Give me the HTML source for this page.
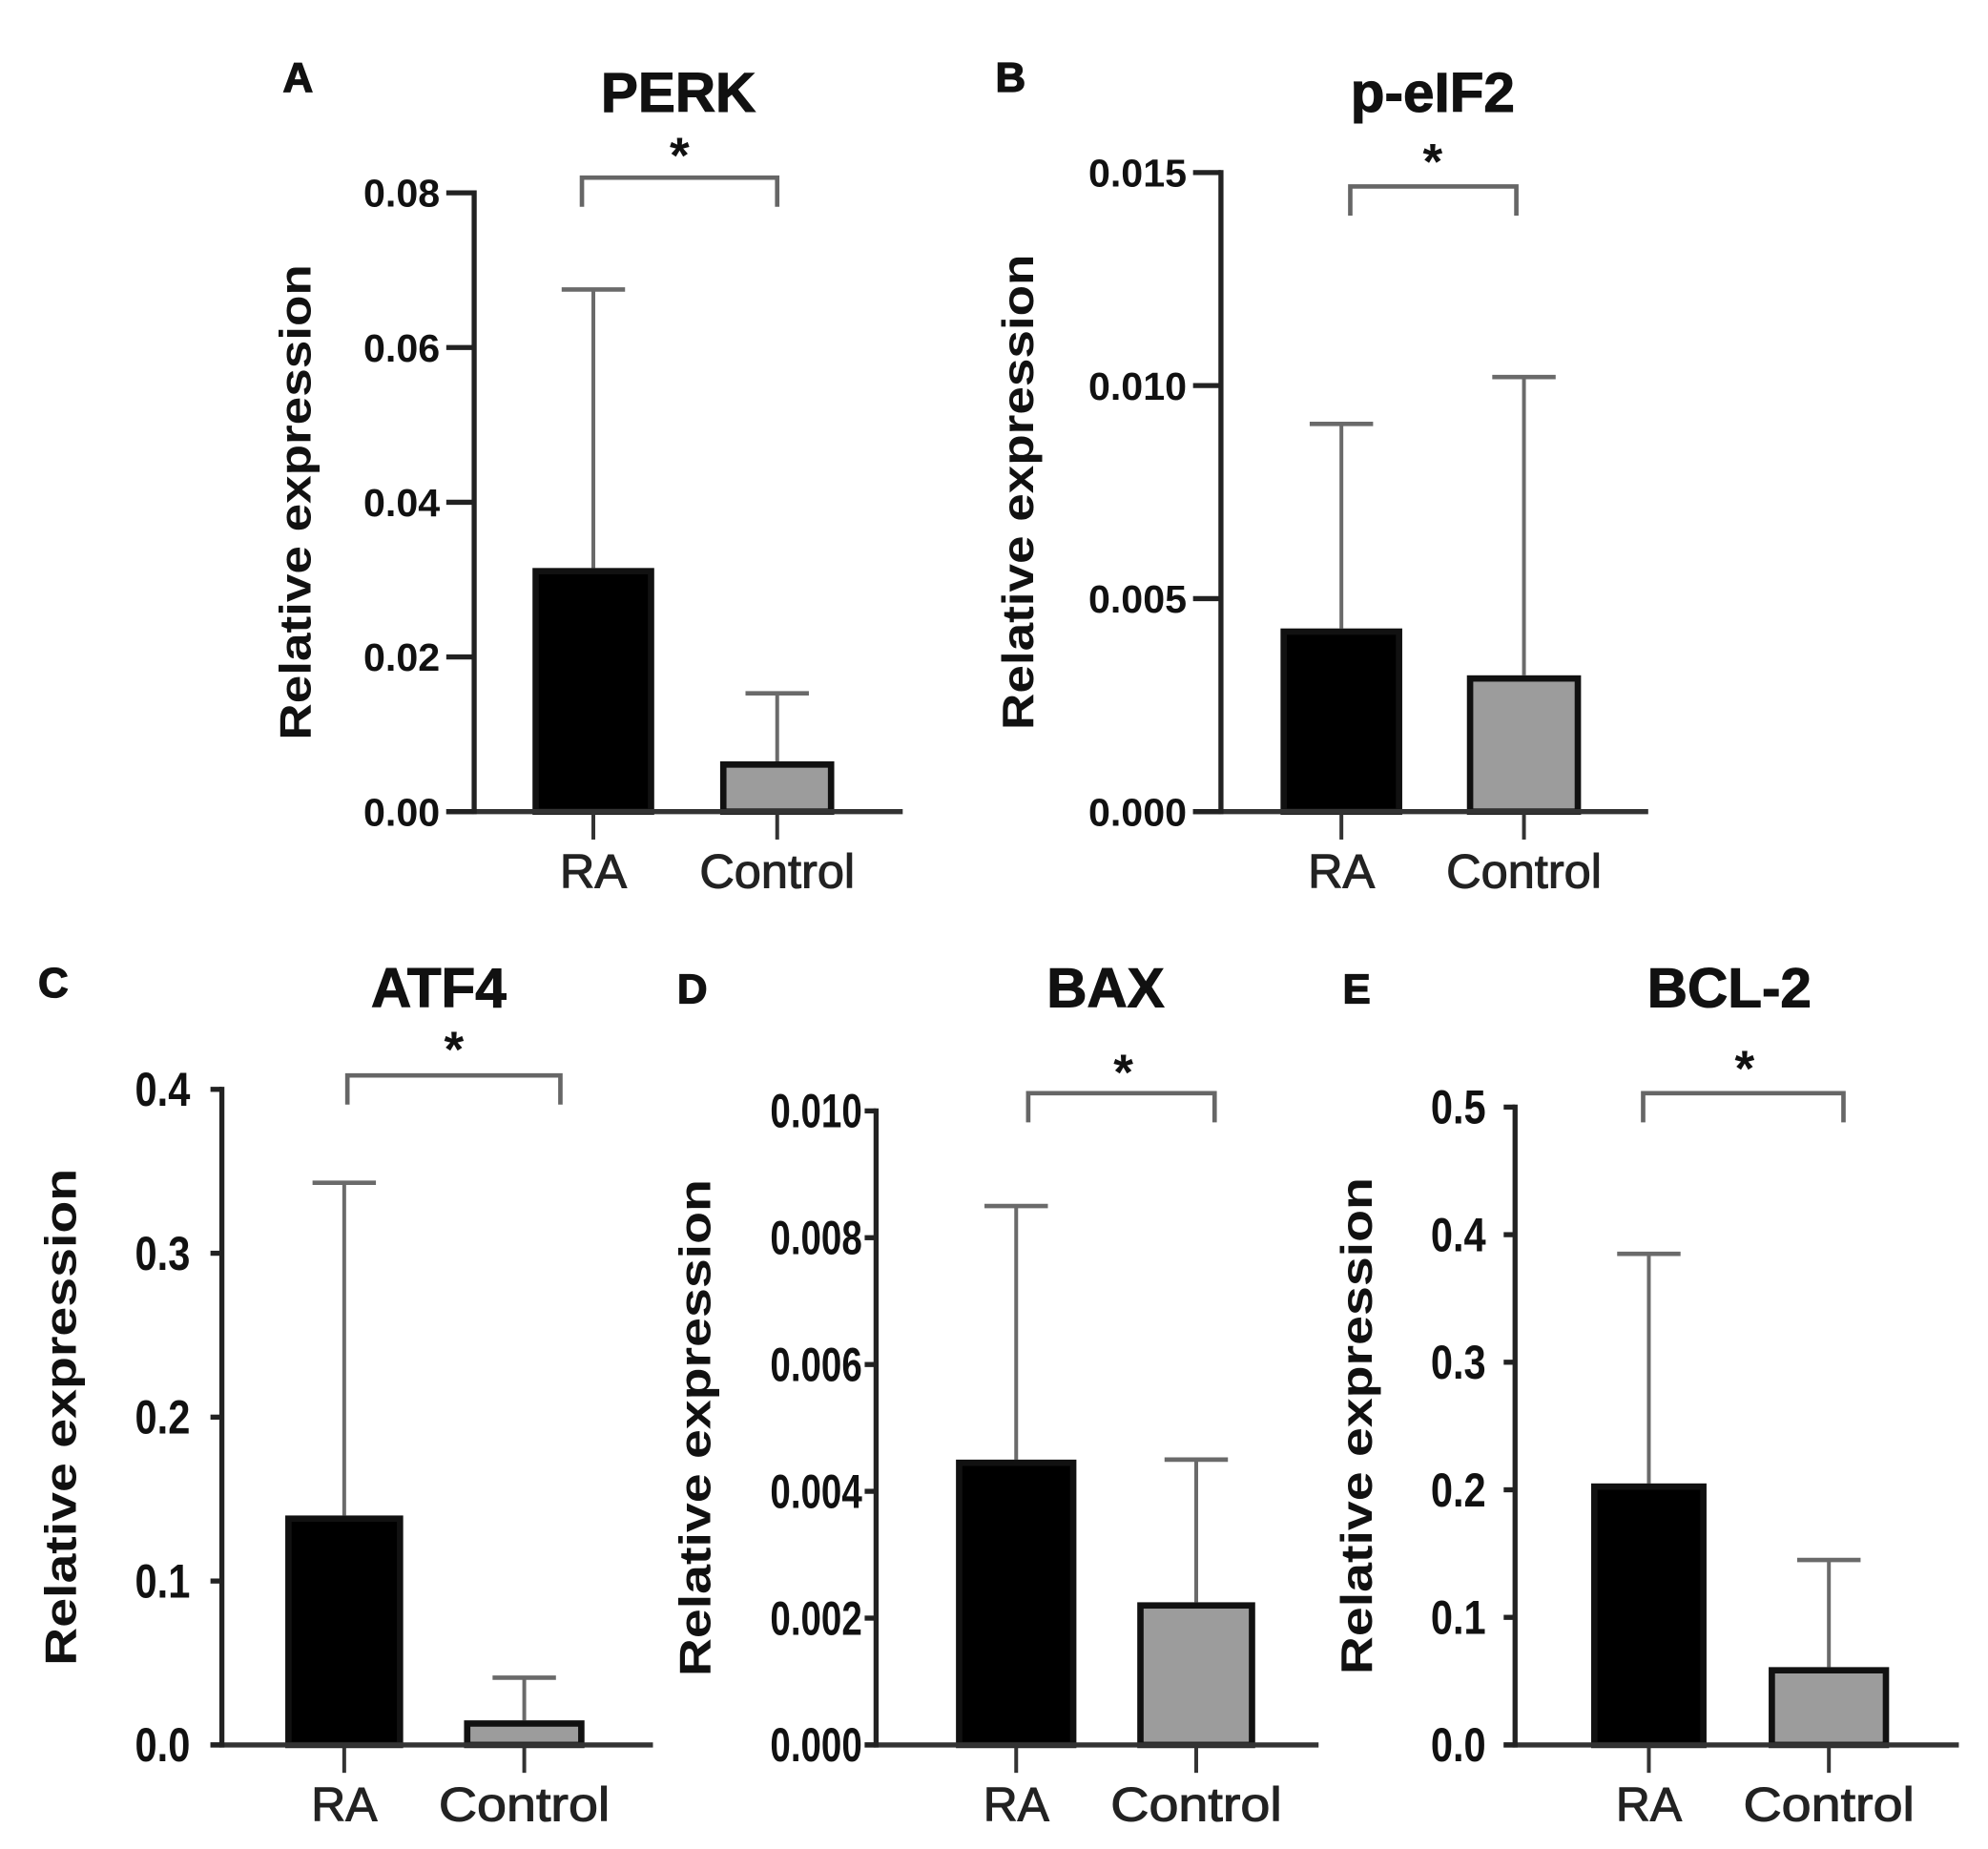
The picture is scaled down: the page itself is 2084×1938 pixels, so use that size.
<!DOCTYPE html>
<html><head><meta charset="utf-8"><style>
html,body{margin:0;padding:0;background:#fff;}
svg{display:block;}
text{font-family:"Liberation Sans",Arial,sans-serif;font-weight:bold;fill:#111;}
</style></head><body>
<svg id="fig" width="2084" height="1938" viewBox="0 0 1568 1458" xmlns="http://www.w3.org/2000/svg"></svg>
<script>
// ---- data ----
const categories = ["RA", "Control"];
const panelLetters = ["A", "B", "C", "D", "E"];
const panelTitles = ["PERK", "p-eIF2", "ATF4", "BAX", "BCL-2"];
const meanValues = [[0.0315, 0.0065], [0.0043, 0.0032], [0.14, 0.015], [0.0045, 0.00225], [0.205, 0.061]];
const errorTops = [[0.0675, 0.0153], [0.0091, 0.0102], [0.343, 0.041], [0.0085, 0.0045], [0.385, 0.145]];
const yMaxValues = [0.08, 0.015, 0.4, 0.010, 0.5];
const tickLabels = [
  ["0.00","0.02","0.04","0.06","0.08"],
  ["0.000","0.005","0.010","0.015"],
  ["0.0","0.1","0.2","0.3","0.4"],
  ["0.000","0.002","0.004","0.006","0.008","0.010"],
  ["0.0","0.1","0.2","0.3","0.4","0.5"]
];

// ---- layout (display coords) ----
const layout = [
  {ax:374, y0:640, yTop:152, xEnd:712, bars:[[420,516],[568,658]], brY:140, br:[459,613], star:[536,122], title:[535,88], letter:[235,72], ytx:233, tickR:347, tickLen:22, condensed:false},
  {ax:963, y0:640, yTop:136, xEnd:1300, bars:[[1010,1106],[1157,1247]], brY:147, br:[1065,1196], star:[1130,127], title:[1130,88], letter:[797,72], ytx:803, tickR:936, tickLen:22, condensed:false},
  {ax:175, y0:1376, yTop:859, xEnd:515, bars:[[225,318],[366,461]], brY:848, br:[274,442], star:[358,827], title:[346,794], letter:[42,786], ytx:48, tickR:150, tickLen:9, condensed:true},
  {ax:691, y0:1376, yTop:876, xEnd:1040, bars:[[754,849],[897,990]], brY:862, br:[811,958], star:[886,845], title:[872,794], letter:[546,791], ytx:548, tickR:680, tickLen:9, condensed:true},
  {ax:1195, y0:1376, yTop:873, xEnd:1545, bars:[[1255,1346],[1395,1490]], brY:862, br:[1296,1454], star:[1376,842], title:[1364,794], letter:[1070,791], ytx:1070, tickR:1172, tickLen:9, condensed:true}
];

const NS = "http://www.w3.org/2000/svg";
const svg = document.getElementById("fig");
function mk(tag, attrs, parent){
  const e = document.createElementNS(NS, tag);
  for (const k in attrs) e.setAttribute(k, attrs[k]);
  (parent||svg).appendChild(e);
  return e;
}

layout.forEach((L, p) => {
  const g = mk("g", {});
  
  
  const yScale = v => L.y0 - (v / yMaxValues[p]) * (L.y0 - L.yTop);

  const lt = mk("text", {x:L.letter[0], y:L.letter[1], "font-size":33, "text-anchor":"middle", stroke:"#111", "stroke-width":1}, g);
  lt.textContent = panelLetters[p];
  
  
  const tt = mk("text", {x:L.title[0], y:L.title[1], "font-size":44, "text-anchor":"middle", stroke:"#111", "stroke-width":0.8}, g);
  tt.textContent = panelTitles[p];
  
  

  categories.forEach((c, i) => {
    const [x1, x2] = L.bars[i];
    const yv = yScale(meanValues[p][i]);
    const ye = yScale(errorTops[p][i]);
    const cx = (x1 + x2) / 2;
    const eb = mk("line", {x1:cx, x2:cx, y1:yv, y2:ye, stroke:"#6a6a6a", "stroke-width":3}, g);
    
    
    const cap = mk("line", {x1:cx-25, x2:cx+25, y1:ye, y2:ye, stroke:"#6a6a6a", "stroke-width":3.5}, g);
    
    
    const r = mk("rect", {x:x1+2.5, y:yv+2.5, width:x2-x1-5, height:Math.max(0, L.y0-yv-2.5),
      fill: i===0 ? "#000" : "#9c9c9c", stroke:"#111", "stroke-width":5}, g);
    
    
    const xt = mk("line", {x1:cx, x2:cx, y1:L.y0, y2:L.y0+22, stroke:"#333", "stroke-width":3}, g);
    
    
    const xl = mk("text", {x:cx, y:L.y0+60, "font-size":38, "text-anchor":"middle"}, g);
    if (L.condensed) { xl.setAttribute("textLength", c.length > 2 ? 135 : 52); xl.setAttribute("lengthAdjust","spacingAndGlyphs"); }
    xl.setAttribute("style","font-weight:normal;fill:#222;stroke:#222;stroke-width:0.8");
    xl.textContent = c;
    
    
  });

  const xa = mk("line", {x1:L.ax-L.tickLen, x2:L.xEnd, y1:L.y0, y2:L.y0, stroke:"#333", "stroke-width":4}, g);
  
  
  const ya = mk("line", {x1:L.ax, x2:L.ax, y1:L.yTop-2, y2:L.y0+2, stroke:"#222", "stroke-width":4}, g);
  
  

  const n = tickLabels[p].length;
  tickLabels[p].forEach((lab, k) => {
    const y = yScale(yMaxValues[p] * k / (n - 1));
    const tk = mk("line", {x1:L.ax-L.tickLen, x2:L.ax, y1:y, y2:y, stroke:"#222", "stroke-width":4}, g);
    
    
    const tl = mk("text", {x:L.tickR, y:y+(L.condensed?13:11), "font-size":L.condensed?38:31, "text-anchor":"end"}, g);
    if (L.condensed) { tl.setAttribute("textLength", lab.length*14.5); tl.setAttribute("lengthAdjust","spacingAndGlyphs"); }
    tl.textContent = lab;
    
    
  });

  const cy = (L.y0 + L.yTop) / 2;
  const yt = mk("text", {x:L.ytx, y:cy, "font-size":35, "text-anchor":"middle", transform:`rotate(-90 ${L.ytx} ${cy})`, dy:12, textLength:L.condensed?392:375, lengthAdjust:"spacingAndGlyphs"}, g);
  yt.textContent = "Relative expression";
  
  

  const b = mk("path", {d:`M${L.br[0]} ${L.brY+23} V${L.brY} H${L.br[1]} V${L.brY+23}`, fill:"none", stroke:"#666", "stroke-width":3.5}, g);
  
  
  const st = mk("text", {x:L.star[0], y:L.star[1]+14, "font-size":40, "text-anchor":"middle"}, g);
  st.textContent = "*";
  
  
});
</script>
</body></html>
